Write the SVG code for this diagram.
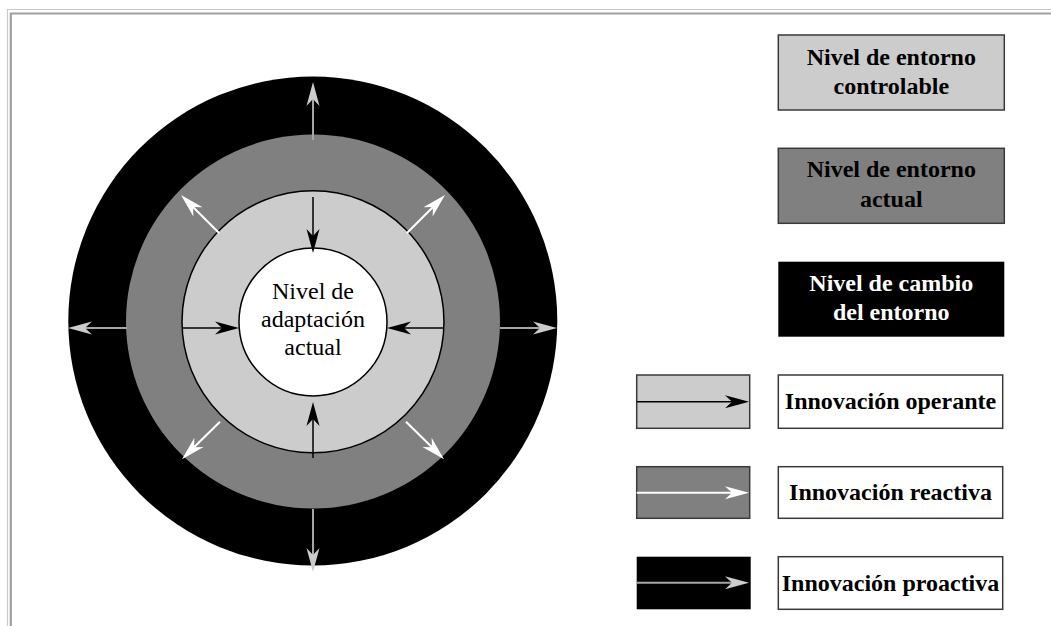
<svg xmlns="http://www.w3.org/2000/svg" xmlns:xlink="http://www.w3.org/1999/xlink" width="1051" height="626" viewBox="0 0 1051 626">
  <style>
    text { font-family: 'Liberation Serif', Tinos, 'Times New Roman', Times, serif; font-size: 24px; text-anchor: middle; }
    .bold { font-weight: bold; }
    .box { stroke: #3a3a3a; stroke-width: 1.5; }
    .ring { stroke: #000; stroke-width: 1.5; }
    .ln-out { stroke: #a6a6a6; stroke-width: 2; fill: none; }
    .hd-out { fill: #cccccc; }
    .ln-in { stroke: #000; stroke-width: 1.5; fill: none; }
    .hd-in { fill: #000; }
    .ln-wh { stroke: #fff; stroke-width: 2; fill: none; }
    .hd-wh { fill: #fff; }
  </style>
  <defs>
    <!-- barbed arrowhead, tip at origin, pointing along +x -->
    <path id="head" d="M0,0 L-24,-6.5 L-17,0 L-24,6.5 Z"/>
  </defs>

  <rect width="1051" height="626" fill="#fff"/>

  <!-- inset frame -->
  <g id="frame" fill="none">
    <path d="M7.5,626 V9.5 H1051" stroke="#c8c8c8" stroke-width="1.2"/>
    <path d="M10.8,626 V13.5 H1051" stroke="#a0a0a0" stroke-width="2.2"/>
  </g>

  <!-- concentric levels -->
  <g id="nivel-cambio">
    <circle cx="312.8" cy="321" r="244.5" fill="#000"/>
  </g>
  <g id="nivel-actual">
    <circle cx="313" cy="321.5" r="187" fill="#808080"/>
  </g>
  <g id="nivel-controlable">
    <circle cx="313" cy="321.8" r="131" fill="#cccccc" class="ring"/>
  </g>
  <g id="nivel-adaptacion">
    <circle cx="313" cy="322" r="74" fill="#fff" class="ring"/>
    <text x="313" y="299" font-family="Liberation Serif, serif">Nivel de</text>
    <text x="313" y="327" font-family="Liberation Serif, serif">adaptación</text>
    <text x="313" y="355" font-family="Liberation Serif, serif">actual</text>
  </g>

  <!-- connectors -->
  <g id="connectors">
    <!-- proactive (outward, grey) -->
    <line class="ln-out" x1="313" y1="140" x2="313" y2="99"/>
    <use href="#head" class="hd-out" transform="translate(313,82) rotate(-90)"/>
    <line class="ln-out" x1="313" y1="509" x2="313" y2="555"/>
    <use href="#head" class="hd-out" transform="translate(313,572) rotate(90)"/>
    <line class="ln-out" x1="127" y1="328" x2="85" y2="328"/>
    <use href="#head" class="hd-out" transform="translate(68,328) rotate(180)"/>
    <line class="ln-out" x1="500" y1="328" x2="540" y2="328"/>
    <use href="#head" class="hd-out" transform="translate(557,328)"/>

    <!-- operant (inward, black) -->
    <line class="ln-in" x1="313" y1="197" x2="313" y2="236"/>
    <use href="#head" class="hd-in" transform="translate(313,253) rotate(90)"/>
    <line class="ln-in" x1="313" y1="458" x2="313" y2="419"/>
    <use href="#head" class="hd-in" transform="translate(313,402) rotate(-90)"/>
    <line class="ln-in" x1="182" y1="328" x2="222" y2="328"/>
    <use href="#head" class="hd-in" transform="translate(239,328)"/>
    <line class="ln-in" x1="444" y1="328" x2="404" y2="328"/>
    <use href="#head" class="hd-in" transform="translate(387,328) rotate(180)"/>

    <!-- reactive (diagonal, white) -->
    <line class="ln-wh" x1="406.7" y1="233.3" x2="433" y2="207"/>
    <use href="#head" class="hd-wh" transform="translate(445,195) rotate(-45)"/>
    <line class="ln-wh" x1="406" y1="421.7" x2="432" y2="447.3"/>
    <use href="#head" class="hd-wh" transform="translate(444,459.3) rotate(45)"/>
    <line class="ln-wh" x1="219.3" y1="233.3" x2="193" y2="207"/>
    <use href="#head" class="hd-wh" transform="translate(181,195) rotate(-135)"/>
    <line class="ln-wh" x1="220" y1="421.7" x2="194" y2="447.3"/>
    <use href="#head" class="hd-wh" transform="translate(182,459.3) rotate(135)"/>
  </g>

  <!-- legend: levels -->
  <g id="leg-controlable">
    <rect class="box" x="778.3" y="35" width="226" height="75" fill="#cccccc"/>
    <text class="bold" x="891.3" y="65">Nivel de entorno</text>
    <text class="bold" x="891.3" y="94">controlable</text>
  </g>
  <g id="leg-actual">
    <rect class="box" x="778.3" y="148.3" width="226" height="75" fill="#808080"/>
    <text class="bold" x="891.3" y="177">Nivel de entorno</text>
    <text class="bold" x="891.3" y="206.5">actual</text>
  </g>
  <g id="leg-cambio">
    <rect x="778.3" y="261.7" width="226" height="75" fill="#000"/>
    <text class="bold" x="891.3" y="291" fill="#fff">Nivel de cambio</text>
    <text class="bold" x="891.3" y="320" fill="#fff">del entorno</text>
  </g>

  <!-- legend: innovation types -->
  <g id="leg-operante">
    <rect class="box" x="636.7" y="375" width="113" height="53.3" fill="#cccccc"/>
    <line class="ln-in" x1="636.7" y1="401.7" x2="732" y2="401.7"/>
    <use href="#head" class="hd-in" transform="translate(749,401.7)"/>
    <rect class="box" x="778.3" y="375" width="224.4" height="53.3" fill="#fff"/>
    <text class="bold" x="890.5" y="409">Innovación operante</text>
  </g>
  <g id="leg-reactiva">
    <rect class="box" x="636.7" y="466.7" width="113" height="51.6" fill="#808080"/>
    <line class="ln-wh" x1="636.7" y1="492.7" x2="732" y2="492.7"/>
    <use href="#head" class="hd-wh" transform="translate(749,492.7)"/>
    <rect class="box" x="778.3" y="466.7" width="224.4" height="51.6" fill="#fff"/>
    <text class="bold" x="890.5" y="500">Innovación reactiva</text>
  </g>
  <g id="leg-proactiva">
    <rect x="636.7" y="556.7" width="114" height="52.6" fill="#000"/>
    <line class="ln-out" x1="636.7" y1="582.7" x2="732" y2="582.7"/>
    <use href="#head" class="hd-out" transform="translate(749,582.7)"/>
    <rect class="box" x="778.3" y="556.7" width="224.4" height="52.6" fill="#fff"/>
    <text class="bold" x="890.5" y="591">Innovación proactiva</text>
  </g>
</svg>
